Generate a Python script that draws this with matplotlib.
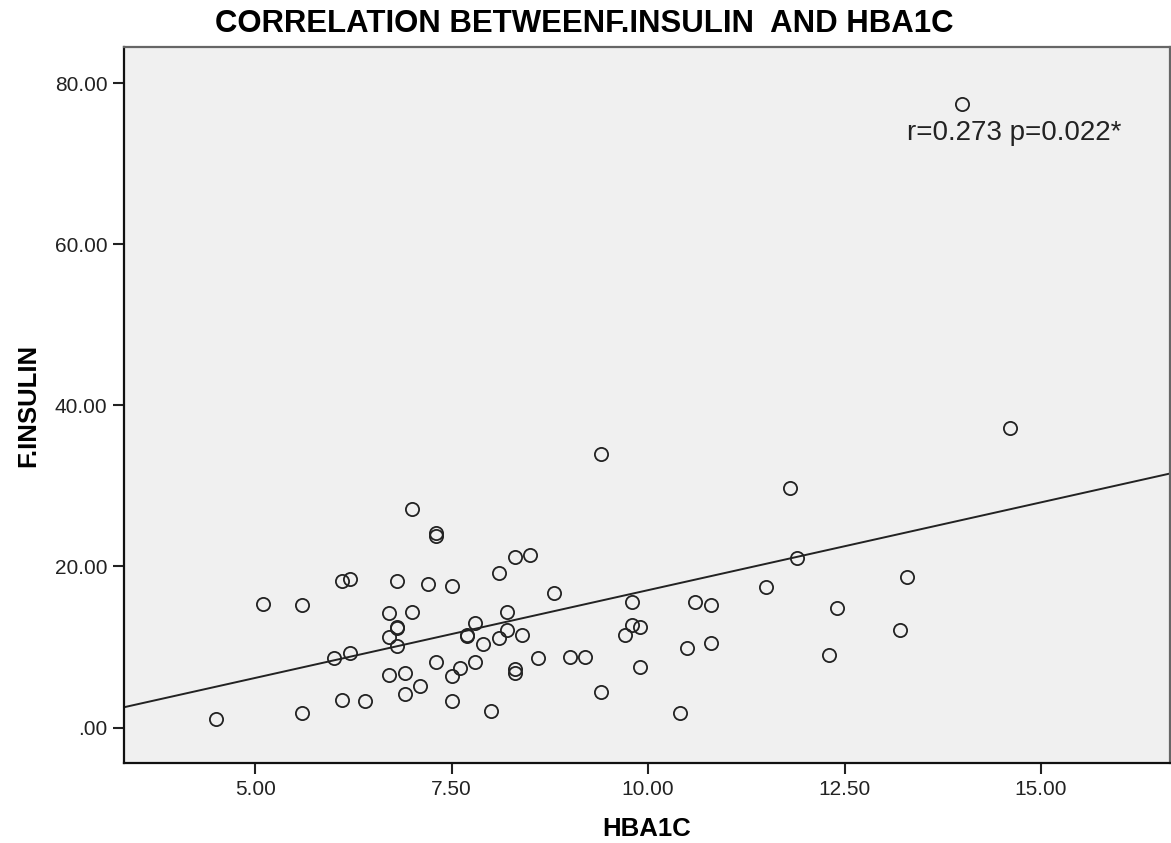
import matplotlib
matplotlib.use("Agg")
import matplotlib.pyplot as plt
import numpy as np

plt.rcParams["font.family"] = ["Liberation Sans", "DejaVu Sans"]

# HBA1C (x) and F.INSULIN (y)
hba1c = [
    7.0, 6.1, 6.2, 6.8, 5.1, 5.6, 6.7, 7.0, 6.8, 6.8, 6.7,
    6.8, 6.0, 6.2, 6.7, 6.9, 7.1, 6.9, 6.1, 6.4, 4.5, 5.6,
    9.4, 7.3, 7.3, 8.3, 8.5, 8.1, 7.2, 7.5, 8.8, 8.2, 9.8,
    10.6, 7.8, 7.7, 7.7, 7.9, 8.1, 8.2, 8.4, 9.7, 9.8, 9.9,
    10.5, 7.3, 7.6, 7.5, 7.8, 8.3, 8.3, 8.6, 9.0, 9.2, 9.9,
    7.5, 9.4, 8.0, 10.4,
    11.8, 11.9, 11.5, 13.3, 10.8, 12.4, 10.8, 13.2, 12.3,
    14.0, 14.6,
]
insulin = [
    27.1, 18.2, 18.4, 18.2, 15.4, 15.2, 14.2, 14.3, 12.5, 12.4, 11.2,
    10.1, 8.6, 9.2, 6.5, 6.75, 5.2, 4.2, 3.4, 3.35, 1.1, 1.8,
    34.0, 24.2, 23.8, 21.2, 21.4, 19.2, 17.8, 17.55, 16.7, 14.4, 15.6,
    15.6, 13.0, 11.5, 11.4, 10.4, 11.1, 12.1, 11.5, 11.55, 12.7, 12.5,
    9.9, 8.1, 7.4, 6.4, 8.2, 7.25, 6.8, 8.65, 8.8, 8.8, 7.5,
    3.35, 4.4, 2.0, 1.87,
    29.8, 21.1, 17.5, 18.75, 15.2, 14.8, 10.55, 12.1, 9.0,
    77.4, 37.2,
]
x_ticks = [5.0, 7.5, 10.0, 12.5, 15.0]
y_ticks = [0, 20, 40, 60, 80]
stats_text = "r=0.273 p=0.022*"

x = np.array(hba1c)
y = np.array(insulin)

fig = plt.figure(figsize=(11.71, 8.43), dpi=100)
ax = fig.add_axes([0.1059, 0.0949, 0.8932, 0.8493])
ax.set_facecolor("#f0f0f0")

ax.plot(x, y, "o", markerfacecolor="none", markeredgecolor="#222222",
        markersize=9.5, markeredgewidth=1.3, linestyle="none")

# least-squares fit line spanning the whole x axis, as SPSS draws it
xlim = (3.33, 16.64)
slope, intercept = np.polyfit(x, y, 1)
line_x = np.array(xlim)
ax.plot(line_x, slope * line_x + intercept, color="#222222", linewidth=1.4)

ax.set_xlim(*xlim)
ax.set_ylim(-4.4, 84.5)
ax.set_xticks(x_ticks)
ax.set_xticklabels([f"{v:.2f}" for v in x_ticks])
ax.set_yticks(y_ticks)
ax.set_yticklabels([".00" if v == 0 else f"{v:.2f}" for v in y_ticks])
ax.tick_params(direction="out", length=8, width=1.5, labelsize=15,
               colors="#222222", pad=4)

for side in ["left", "bottom"]:
    ax.spines[side].set_color("#111111")
    ax.spines[side].set_linewidth(1.6)
for side in ["top", "right"]:
    ax.spines[side].set_color("#666666")
    ax.spines[side].set_linewidth(1.6)

ax.set_xlabel("HBA1C", fontsize=18.5, fontweight="bold")
ax.xaxis.label.set_va("center")
ax.xaxis.set_label_coords(0.5, -0.092)
ax.set_ylabel("F.INSULIN", fontsize=18.5, fontweight="bold")
ax.yaxis.label.set_va("center")
ax.yaxis.set_label_coords(-0.092, 0.5)

ax.text(0.8512, 0.880, stats_text, transform=ax.transAxes, fontsize=20,
        ha="center", va="center", color="#222222")

fig.text(0.499, 0.971, "CORRELATION BETWEENF.INSULIN  AND HBA1C",
         fontsize=22.4, fontweight="bold", ha="center", va="center")

fig.savefig("out.png", dpi=100)
